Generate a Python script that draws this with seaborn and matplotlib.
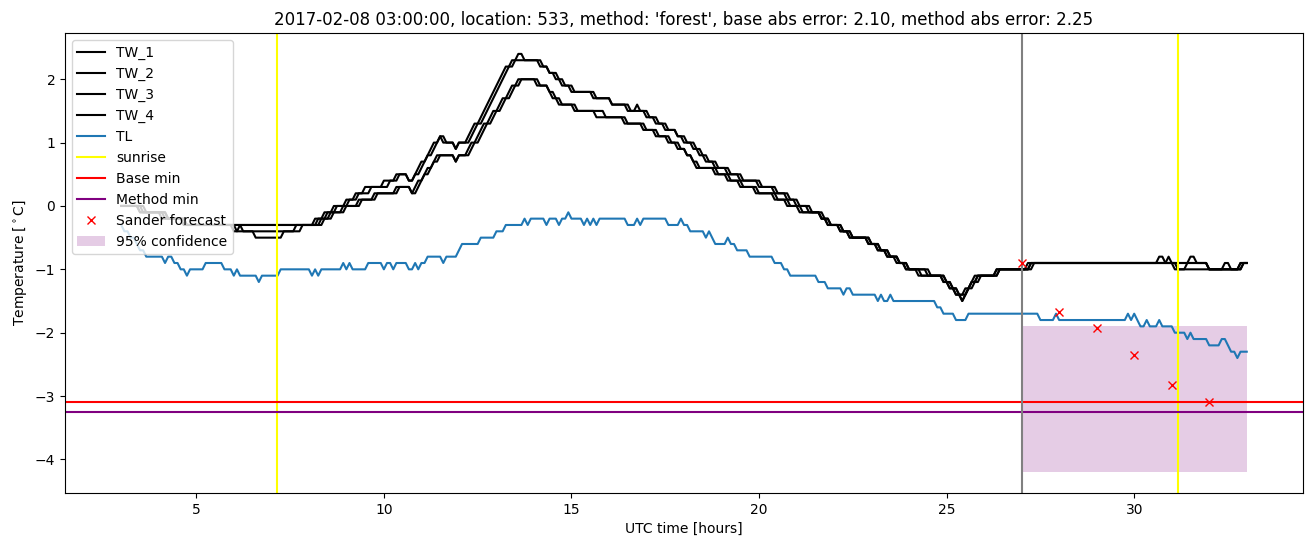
import numpy as np
import pandas as pd
import matplotlib
matplotlib.use("Agg")
import matplotlib.pyplot as plt
import seaborn as sns

# ---------------- data ----------------
N_SAMPLES = 361            # 5-minute samples from 03:00 to 33:00
START_HOUR = 3.0
STEP_HOURS = 5.0 / 60.0

# (sample index where a new level starts, temperature in degC)
TL_STEPS = [(0,-0.3),(1,-0.4),(3,-0.5),(5,-0.6),(6,-0.7),(8,-0.8),(14,-0.9),(15,-0.8),(17,-0.9),
            (19,-1.0),(21,-1.1),(22,-1.0),(27,-0.9),(33,-1.0),(36,-1.1),(37,-1.0),(38,-1.1),(44,-1.2),
            (45,-1.1),(51,-1.0),(61,-1.1),(62,-1.0),(63,-1.1),(64,-1.0),(71,-0.9),(72,-1.0),(73,-0.9),
            (74,-1.0),(79,-0.9),(84,-1.0),(85,-0.9),(87,-1.0),(88,-0.9),(92,-1.0),(94,-0.9),(95,-1.0),
            (96,-0.9),(98,-0.8),(103,-0.9),(104,-0.8),(108,-0.7),(109,-0.6),(115,-0.5),(120,-0.4),
            (123,-0.3),(129,-0.2),(130,-0.3),(131,-0.2),(136,-0.3),(137,-0.2),(140,-0.3),(141,-0.2),
            (143,-0.1),(144,-0.2),(148,-0.3),(149,-0.2),(150,-0.3),(151,-0.2),(152,-0.3),(153,-0.2),
            (162,-0.3),(165,-0.2),(166,-0.3),(167,-0.2),(175,-0.3),(179,-0.2),(180,-0.3),(182,-0.4),
            (187,-0.5),(188,-0.4),(189,-0.5),(190,-0.6),(194,-0.5),(195,-0.6),(197,-0.7),(201,-0.8),
            (209,-0.9),(212,-1.0),(214,-1.1),(223,-1.2),(226,-1.3),(231,-1.4),(232,-1.3),(234,-1.4),
            (242,-1.5),(243,-1.4),(244,-1.5),(246,-1.4),(247,-1.5),(261,-1.6),(263,-1.7),(267,-1.8),
            (271,-1.7),(294,-1.8),(299,-1.7),(300,-1.8),(322,-1.7),(323,-1.8),(324,-1.7),(325,-1.8),
            (326,-1.9),(328,-1.8),(329,-1.9),(332,-1.8),(333,-1.9),(337,-2.0),(341,-2.1),(342,-2.0),
            (343,-2.1),(348,-2.2),(352,-2.1),(354,-2.2),(355,-2.3),(357,-2.4),(358,-2.3)]

TW1_STEPS = [(0,0.0),(6,-0.1),(13,-0.2),(20,-0.3),(62,-0.2),(65,-0.1),(68,0.0),(72,0.1),(75,0.2),
             (78,0.3),(84,0.4),(88,0.5),(92,0.4),(94,0.5),(95,0.6),(96,0.7),(98,0.8),(99,0.9),(100,1.0),
             (102,1.1),(103,1.0),(107,0.9),(108,1.0),(111,1.1),(112,1.2),(113,1.3),(115,1.4),(116,1.5),
             (117,1.6),(118,1.7),(119,1.8),(120,1.9),(121,2.0),(122,2.1),(123,2.2),(125,2.3),(127,2.4),
             (129,2.3),(134,2.2),(137,2.1),(139,2.0),(141,1.9),(144,1.8),(151,1.7),(157,1.6),(162,1.5),
             (165,1.6),(166,1.5),(168,1.4),(171,1.3),(174,1.2),(178,1.1),(180,1.0),(183,0.9),(185,0.8),
             (187,0.7),(190,0.6),(194,0.5),(198,0.4),(204,0.3),(209,0.2),(213,0.1),(216,0.0),(220,-0.1),
             (224,-0.2),(226,-0.3),(230,-0.4),(233,-0.5),(239,-0.6),(242,-0.7),(245,-0.8),(249,-0.9),
             (251,-1.0),(259,-1.1),(264,-1.2),(266,-1.3),(268,-1.4),(271,-1.3),(272,-1.2),(274,-1.1),
             (280,-1.0),(290,-0.9),(332,-0.8),(334,-0.9),(348,-1.0),(358,-0.9)]

TW2_STEPS = [(0,0.0),(8,-0.1),(15,-0.2),(21,-0.3),(63,-0.2),(66,-0.1),(69,0.0),(73,0.1),(76,0.2),
             (80,0.3),(86,0.4),(89,0.5),(92,0.4),(94,0.5),(96,0.6),(97,0.7),(98,0.8),(100,0.9),(101,1.0),
             (102,1.1),(104,1.0),(107,0.9),(108,1.0),(112,1.1),(113,1.2),(114,1.3),(116,1.4),(117,1.5),
             (118,1.6),(119,1.7),(120,1.8),(121,1.9),(122,2.0),(123,2.1),(124,2.2),(126,2.3),(135,2.2),
             (137,2.1),(140,2.0),(142,1.9),(145,1.8),(152,1.7),(157,1.6),(163,1.5),(169,1.4),(172,1.3),
             (175,1.2),(178,1.1),(181,1.0),(184,0.9),(186,0.8),(188,0.7),(191,0.6),(195,0.5),(199,0.4),
             (205,0.3),(210,0.2),(214,0.1),(217,0.0),(221,-0.1),(224,-0.2),(227,-0.3),(231,-0.4),
             (234,-0.5),(240,-0.6),(243,-0.7),(246,-0.8),(249,-0.9),(252,-1.0),(258,-1.1),(263,-1.2),
             (265,-1.3),(267,-1.4),(269,-1.5),(270,-1.4),(271,-1.3),(273,-1.2),(275,-1.1),(281,-1.0),
             (291,-0.9),(335,-0.8),(336,-0.9),(342,-0.8),(344,-0.9),(348,-1.0),(353,-0.9),(355,-1.0),
             (359,-0.9)]

TW3_STEPS = [(0,0.0),(6,-0.1),(14,-0.2),(20,-0.3),(36,-0.4),(43,-0.5),(52,-0.4),(56,-0.3),(64,-0.2),
             (67,-0.1),(71,0.0),(76,0.1),(81,0.2),(88,0.3),(93,0.2),(94,0.3),(95,0.4),(97,0.5),(98,0.6),
             (100,0.7),(101,0.8),(107,0.7),(108,0.8),(111,0.9),(112,1.0),(114,1.1),(115,1.2),(116,1.3),
             (118,1.4),(119,1.5),(121,1.6),(122,1.7),(124,1.8),(125,1.9),(127,2.0),(133,1.9),(137,1.8),
             (138,1.7),(140,1.6),(145,1.5),(152,1.4),(161,1.3),(167,1.2),(171,1.1),(175,1.0),(178,0.9),
             (181,0.8),(183,0.7),(184,0.6),(190,0.5),(194,0.4),(198,0.3),(203,0.2),(209,0.1),(213,0.0),
             (217,-0.1),(224,-0.2),(226,-0.3),(230,-0.4),(233,-0.5),(239,-0.6),(242,-0.7),(245,-0.8),
             (248,-0.9),(251,-1.0),(255,-1.1),(263,-1.2),(265,-1.3),(267,-1.4),(270,-1.3),(272,-1.2),
             (273,-1.1),(280,-1.0),(291,-0.9),(337,-1.0),(358,-0.9)]

TW4_STEPS = [(0,0.0),(7,-0.1),(15,-0.2),(21,-0.3),(37,-0.4),(38,-0.3),(39,-0.4),(58,-0.3),(65,-0.2),
             (68,-0.1),(72,0.0),(77,0.1),(82,0.2),(89,0.3),(93,0.2),(95,0.3),(96,0.4),(97,0.5),(99,0.6),
             (100,0.7),(102,0.8),(107,0.7),(108,0.8),(112,0.9),(113,1.0),(115,1.1),(116,1.2),(117,1.3),
             (119,1.4),(120,1.5),(122,1.6),(123,1.7),(125,1.8),(126,1.9),(128,2.0),(134,1.9),(137,1.8),
             (139,1.7),(141,1.6),(146,1.5),(155,1.4),(162,1.3),(168,1.2),(172,1.1),(176,1.0),(179,0.9),
             (181,0.8),(183,0.7),(185,0.6),(191,0.5),(195,0.4),(199,0.3),(204,0.2),(210,0.1),(214,0.0),
             (218,-0.1),(225,-0.2),(227,-0.3),(231,-0.4),(234,-0.5),(240,-0.6),(243,-0.7),(246,-0.8),
             (249,-0.9),(252,-1.0),(256,-1.1),(264,-1.2),(266,-1.3),(268,-1.4),(269,-1.5),(270,-1.4),
             (271,-1.3),(272,-1.2),(274,-1.1),(281,-1.0),(292,-0.9),(338,-1.0),(341,-0.9),(348,-1.0),
             (359,-0.9)]

SUNRISE_HOURS = [7.15, 31.17]
FORECAST_START = 27.0
BASE_MIN = -3.10
METHOD_MIN = -3.25
SANDER_HOURS = [27, 28, 29, 30, 31, 32]
SANDER_TEMPS = [-0.90, -1.68, -1.92, -2.35, -2.82, -3.09]
CONF_HOURS = [27.0, 33.0]
CONF_LOW = [-4.2, -4.2]
CONF_HIGH = [-1.9, -1.9]

TITLE = ("2017-02-08 03:00:00, location: 533, method: 'forest', "
         "base abs error: 2.10, method abs error: 2.25")


def expand(steps, n=N_SAMPLES):
    out = np.empty(n)
    for k, (s, v) in enumerate(steps):
        e = steps[k + 1][0] if k + 1 < len(steps) else n
        out[s:e] = v
    return out


hours = START_HOUR + np.arange(N_SAMPLES) * STEP_HOURS
df = pd.DataFrame({
    "hours": hours,
    "TW_1": expand(TW1_STEPS),
    "TW_2": expand(TW2_STEPS),
    "TW_3": expand(TW3_STEPS),
    "TW_4": expand(TW4_STEPS),
    "TL": expand(TL_STEPS),
})

# ---------------- figure ----------------
fig, ax = plt.subplots(figsize=(13.13, 5.47), dpi=100)
fig.subplots_adjust(left=0.0495, right=0.9924, top=0.9397, bottom=0.0987)

for name in ["TW_1", "TW_2", "TW_3", "TW_4"]:
    sns.lineplot(data=df, x="hours", y=name, color="black", label=name, ax=ax,
                 linewidth=1.5, estimator=None, sort=False)
sns.lineplot(data=df, x="hours", y="TL", color="#1f77b4", label="TL", ax=ax,
             linewidth=1.5, estimator=None, sort=False)

for k, h in enumerate(SUNRISE_HOURS):
    ax.axvline(h, color="yellow", linewidth=1.5, label="sunrise" if k == 0 else None)
ax.axhline(BASE_MIN, color="red", linewidth=1.5, label="Base min")
ax.axhline(METHOD_MIN, color="purple", linewidth=1.5, label="Method min")
ax.axvline(FORECAST_START, color="gray", linewidth=1.5)

ax.plot(SANDER_HOURS, SANDER_TEMPS, linestyle="none", marker="x", color="red",
        label="Sander forecast")
ax.fill_between(CONF_HOURS, CONF_LOW, CONF_HIGH, color="purple", alpha=0.2,
                linewidth=0, label="95% confidence")

ax.set_title(TITLE, fontsize=12)
ax.set_xlabel("UTC time [hours]")
ax.set_ylabel(r"Temperature [$^\circ$C]")
ax.legend(loc="upper left")

fig.savefig("out.png", dpi=100)
